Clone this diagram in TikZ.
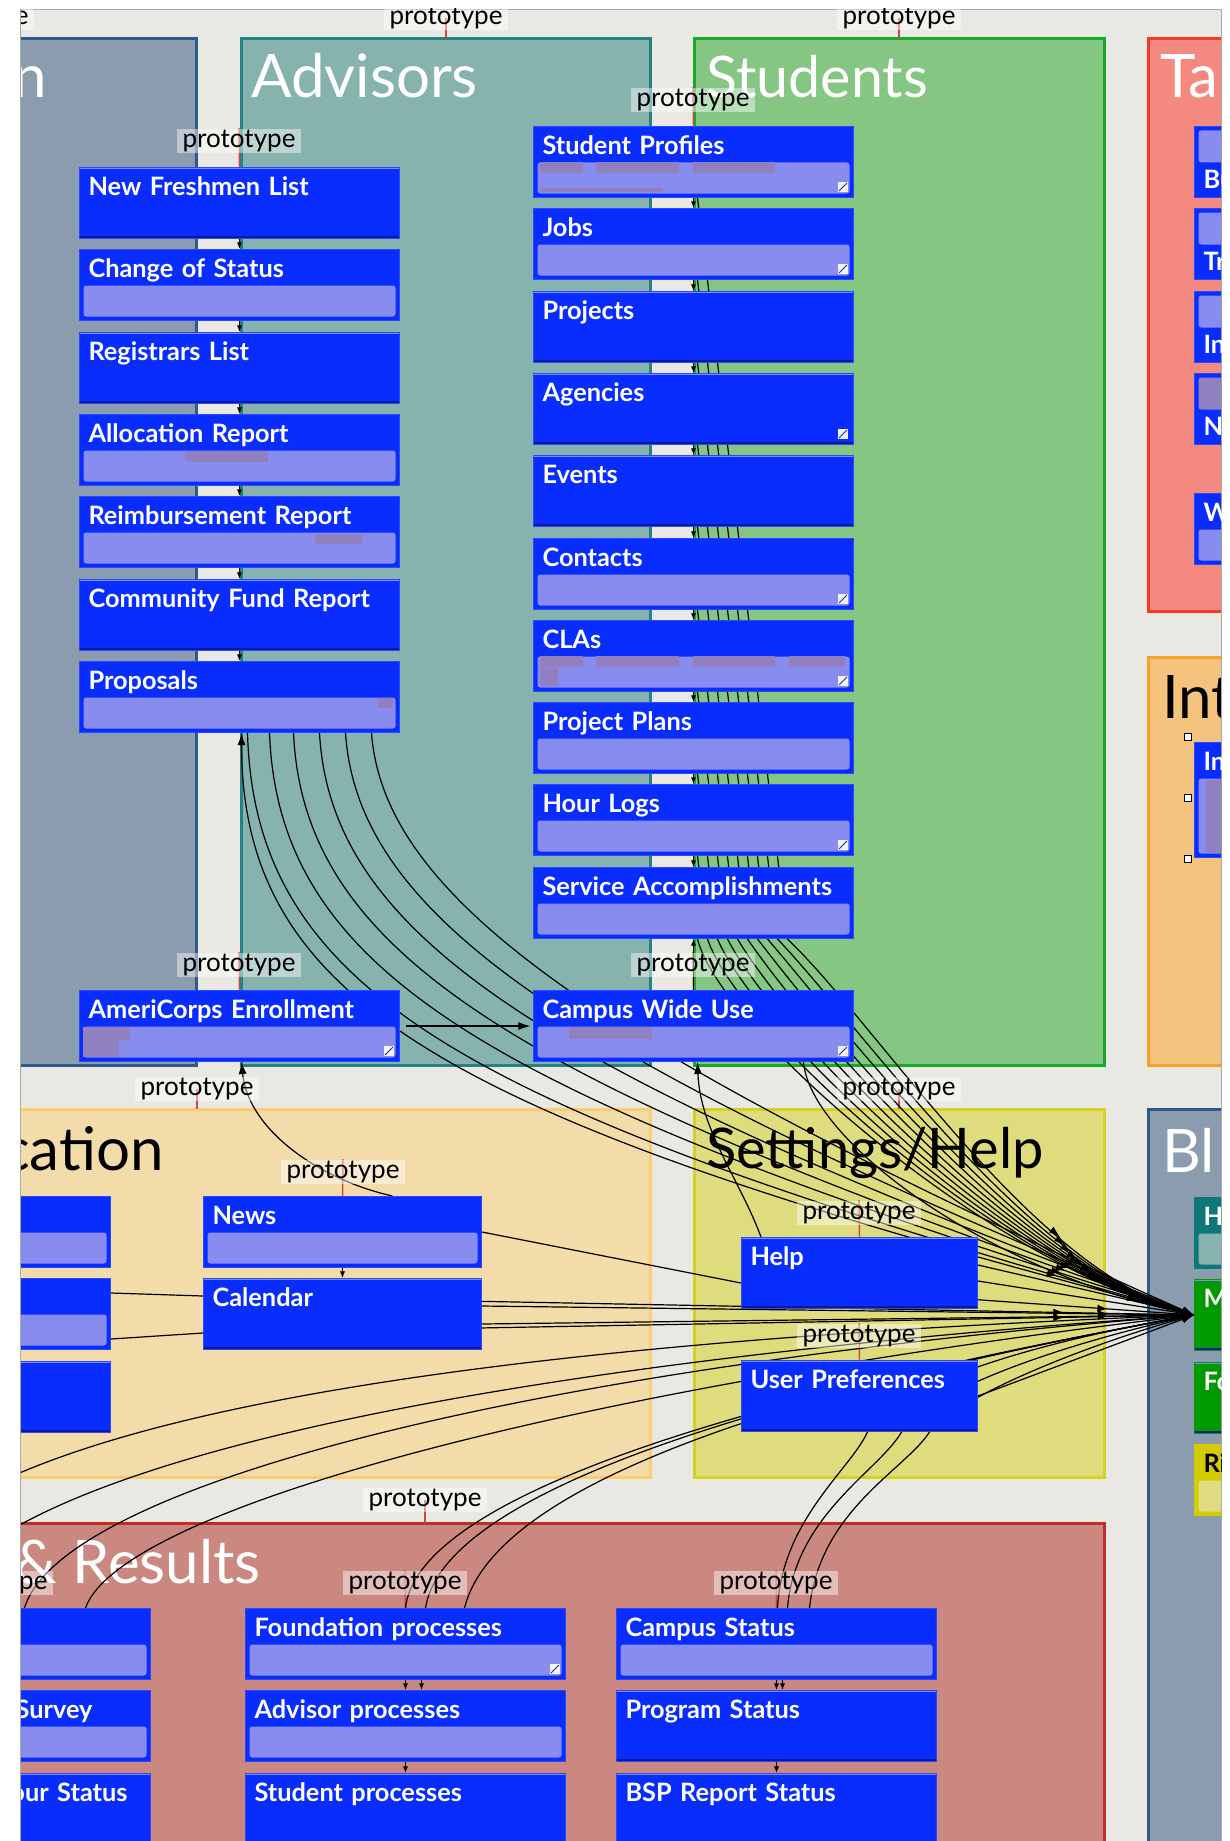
\documentclass[tikz,border=0pt]{standalone}
\usepackage{fontspec}
\usetikzlibrary{arrows.meta,decorations.markings}
\newfontfamily\gill{Lato}
\newcommand\boxfont{\gill\bfseries\fontsize{19pt}{21pt}\selectfont}
\newcommand\ttlfont{\gill\fontsize{45pt}{48pt}\selectfont}
\newcommand\protofont{\gill\fontsize{19.5pt}{21pt}\selectfont}
\newcommand\pgbarcol{barfill}
\newcommand\rszicon[1]{\fill[icnfill] ([shift={(-16,-16)}]#1.south east) rectangle ([shift={(-6,-6)}]#1.south east);
  \draw[boxblue, line width=0.6pt] ([shift={(-15,-7)}]#1.south east) -- ([shift={(-7,-15)}]#1.south east);}
\pgfdeclarelayer{panels}
\pgfdeclarelayer{links}
\pgfsetlayers{panels,links,main}

\definecolor{canvas}{HTML}{E9E8E3}
\definecolor{canvasline}{HTML}{A9A9A9}
\definecolor{admfill}{HTML}{8A9CAE}
\definecolor{admline}{HTML}{2C5B87}
\definecolor{advfill}{HTML}{86B3AE}
\definecolor{advline}{HTML}{268282}
\definecolor{stufill}{HTML}{84C682}
\definecolor{stuline}{HTML}{14AA28}
\definecolor{tskfill}{HTML}{F48A7F}
\definecolor{tskline}{HTML}{F53A28}
\definecolor{intfill}{HTML}{F4C47F}
\definecolor{intline}{HTML}{FAA028}
\definecolor{comfill}{HTML}{F3DCAA}
\definecolor{comline}{HTML}{FACD6E}
\definecolor{setfill}{HTML}{DEDC7D}
\definecolor{setline}{HTML}{D7D01E}
\definecolor{resfill}{HTML}{CB8880}
\definecolor{resline}{HTML}{BE2D26}
\definecolor{boxblue}{HTML}{0A2DFF}
\definecolor{boxrim}{HTML}{2A48FF}
\definecolor{boxdark}{HTML}{0A1A9A}
\definecolor{boxlite}{HTML}{7C8CFF}
\definecolor{barfill}{HTML}{888CEE}
\definecolor{patch}{HTML}{9080C0}
\definecolor{icnfill}{HTML}{F4F2E0}
\definecolor{tealbox}{HTML}{0E7878}
\definecolor{tealbar}{HTML}{86B3AE}
\definecolor{greenbox}{HTML}{009A00}
\definecolor{yellbox}{HTML}{D4CC00}
\definecolor{yellbar}{HTML}{E0DC84}
\definecolor{tickred}{HTML}{C84848}

\tikzset{every picture/.style={line width=0.75pt}}
\tikzset{
  panel/.style 2 args={fill=#1, draw=#2, line width=2.25pt},
  ttl/.style={font=\ttlfont, inner sep=0pt, anchor=base west, text=white},
  pg/.style={anchor=north west, fill=boxblue, draw=boxrim, line width=0.75pt,
    minimum width=240pt, minimum height=53.25pt, inner xsep=6.75pt, inner ysep=3pt,
    text width=226.5pt, text height=18pt, text depth=29.25pt, align=left, text=white, font=\boxfont},
  pgsolid/.style={pg, path picture={
    \fill[boxdark] (path picture bounding box.south west) rectangle ([yshift=2pt]path picture bounding box.south east);
    \fill[boxlite] (path picture bounding box.north west) rectangle ([yshift=-1.2pt]path picture bounding box.north east);}},
  pgbar/.style={pg, path picture={
    \fill[fill=\pgbarcol, rounded corners=2pt] ([shift={(3pt,3pt)}]path picture bounding box.south west) rectangle ([shift={(-3pt,#1)}]path picture bounding box.south east);}},
  pgbar/.default=26.25pt,
  pgtop/.style={pg, text height=43.5pt, text depth=3.75pt, path picture={
    \fill[fill=\pgbarcol, rounded corners=2pt] ([shift={(3pt,-3pt)}]path picture bounding box.north west) rectangle ([shift={(-3pt,-27pt)}]path picture bounding box.north east);}},
  barcol/.code={\def\pgbarcol{#1}},
  proto/.style={fill=white, fill opacity=0.45, text opacity=1, font=\protofont, inner xsep=4.5pt, inner ysep=1pt},
  ptick/.style={draw=tickred, line width=1.1pt},
  chain/.style={line width=0.9pt, -{Latex[length=5pt,width=4pt]}},
  fan/.style={line width=0.9pt, -{Latex[length=9pt,width=6pt]}},
  fanm/.style={fan, postaction={decorate}, decoration={markings, mark=at position 0.88 with {\arrow{Latex[length=8pt,width=5.5pt]}}}},
  back/.style={line width=0.9pt, {Latex[length=9pt,width=6pt]}-},
  handle/.style={draw=black, fill=white, line width=1.2pt, minimum size=5pt, inner sep=0pt},
}

\begin{document}
\begin{tikzpicture}[x=0.75pt,y=0.75pt,yscale=-1,xscale=1]
\useasboundingbox (0,0) rectangle (1229,1841);

\begin{scope}
\clip (21,9) rectangle (1221,1841);
% Advisors
\node[pgsolid] (nfl) at (79,167) {New Freshmen List};
\node[pgbar] (cos) at (79,249) {Change of Status};
\node[pgsolid] (rgl) at (79,332) {Registrars List};
\node[pgbar] (alr) at (79,414) {Allocation Report};
\node[pgbar] (rbr) at (79,496) {Reimbursement Report};
\node[pgsolid] (cfr) at (79,579) {Community Fund Report};
\node[pgbar] (prp) at (79,661) {Proposals};
\node[pgbar] (ace) at (79,990) {AmeriCorps Enrollment};
% Students
\node[pgbar] (spf) at (533,126) {Student Profiles};
\node[pgbar] (job) at (533,208) {Jobs};
\node[pgsolid] (prj) at (533,291) {Projects};
\node[pgsolid] (agn) at (533,373) {Agencies};
\node[pgsolid] (evt) at (533,455) {Events};
\node[pgbar] (cnt) at (533,538) {Contacts};
\node[pgbar] (cla) at (533,620) {CLAs};
\node[pgbar] (ppl) at (533,702) {Project Plans};
\node[pgbar] (hrl) at (533,784) {Hour Logs};
\node[pgbar] (sac) at (533,867) {Service Accomplishments};
\node[pgbar] (cwu) at (533,990) {Campus Wide Use};
% Communication
\node[pgbar, minimum width=210pt, text width=196.5pt] (cm1) at (-170,1196) {};
\node[pgbar, minimum width=210pt, text width=196.5pt] (cm2) at (-170,1278) {};
\node[pgsolid, minimum width=210pt, text width=196.5pt] (cm3) at (-170,1361) {};
\node[pgbar, minimum width=208.5pt, text width=195pt] (nws) at (203,1196) {News};
\node[pgsolid, minimum width=208.5pt, text width=195pt] (cal) at (203,1278) {Calendar};
% Settings/Help
\node[pgsolid, minimum width=177pt, text width=163.5pt] (hlp) at (741,1237) {Help};
\node[pgsolid, minimum width=177pt, text width=163.5pt] (upf) at (741,1360) {User Preferences};
% Results
\node[pgbar] (rs1) at (-170,1608) {};
\node[pgbar, align=right, text width=153pt] (rs2) at (-170,1690) {Survey};
\node[pgsolid, align=right, text width=205.5pt] (rs3) at (-170,1773) {our Status};
\node[pgbar] (fnd) at (245,1608) {Foundation processes};
\node[pgbar] (adp) at (245,1690) {Advisor processes};
\node[pgsolid] (stp) at (245,1773) {Student processes};
\node[pgbar] (cst) at (616,1608) {Campus Status};
\node[pgsolid] (pst) at (616,1690) {Program Status};
\node[pgsolid] (bsp) at (616,1773) {BSP Report Status};
% Tasks
\node[pgtop] (tk1) at (1194,126) {Bu};
\node[pgtop] (tk2) at (1194,208) {Tr};
\node[pgtop] (tk3) at (1194,291) {In};
\node[pgtop, barcol=patch] (tk4) at (1194,373) {N};
\node[pgbar] (tk5) at (1194,493) {W};
% Int
\node[pgbar=59.25pt, minimum height=86.25pt, text depth=62.25pt] (itn) at (1194,742) {In};
\node[handle] (hd1) at (1188,737) {};
\node[handle] (hd2) at (1188,798) {};
\node[handle] (hd3) at (1188,859) {};
% Blocks
\node[pgbar, barcol=tealbar, fill=tealbox, draw=tealbox] (bk1) at (1194,1197) {H};
\node[pgsolid, fill=greenbox, draw=greenbox] (bk2) at (1194,1279) {M};
\node[pgsolid, fill=greenbox, draw=greenbox] (bk3) at (1194,1362) {Fo};
\node[pgbar, barcol=yellbar, fill=yellbox, draw=yellbox, text=black] (bk4) at (1194,1444) {Ri};

% patches
\fill[patch] ([shift={(7,36)}]spf.north west) rectangle ([shift={(50,47)}]spf.north west);
\fill[patch] ([shift={(63,36)}]spf.north west) rectangle ([shift={(146,47)}]spf.north west);
\fill[patch] ([shift={(160,36)}]spf.north west) rectangle ([shift={(242,47)}]spf.north west);
\fill[patch] ([shift={(7,62)}]spf.north west) rectangle ([shift={(130,66)}]spf.north west);
\fill[patch] ([shift={(7,36)}]cla.north west) rectangle ([shift={(50,47)}]cla.north west);
\fill[patch] ([shift={(63,36)}]cla.north west) rectangle ([shift={(146,47)}]cla.north west);
\fill[patch] ([shift={(160,36)}]cla.north west) rectangle ([shift={(242,47)}]cla.north west);
\fill[patch] ([shift={(256,36)}]cla.north west) rectangle ([shift={(312,47)}]cla.north west);
\fill[patch] ([shift={(7,48)}]cla.north west) rectangle ([shift={(25,66)}]cla.north west);
\fill[patch] ([shift={(106,37)}]alr.north west) rectangle ([shift={(189,48)}]alr.north west);
\fill[patch] ([shift={(236,38)}]rbr.north west) rectangle ([shift={(283,48)}]rbr.north west);
\fill[patch] ([shift={(299,37)}]prp.north west) rectangle ([shift={(314,47)}]prp.north west);
\fill[patch] ([shift={(4,37)}]ace.north west) rectangle ([shift={(40,67)}]ace.north west);
\fill[patch] ([shift={(40,37)}]ace.north west) rectangle ([shift={(51,50)}]ace.north west);
\fill[patch] ([shift={(36,37)}]cwu.north west) rectangle ([shift={(119,49)}]cwu.north west);
\fill[patch] ([shift={(12,38)}]itn.north west) rectangle ([shift={(40,111)}]itn.north west);
\rszicon{spf}
\rszicon{job}
\rszicon{agn}
\rszicon{cnt}
\rszicon{cla}
\rszicon{hrl}
\rszicon{ace}
\rszicon{cwu}
\rszicon{fnd}

% prototype labels
\node[proto] (pp0) at (-28,18) {prototype};
\node[proto] (pp1) at (446,18) {prototype};
\node[proto] (pp2) at (899,18) {prototype};
\node[proto] (pp3) at (239,141) {prototype};
\node[proto] (pp4) at (693,100) {prototype};
\node[proto] (pp5) at (239,965) {prototype};
\node[proto] (pp6) at (693,965) {prototype};
\node[proto] (pp7) at (197,1089) {prototype};
\node[proto] (pp8) at (899,1089) {prototype};
\node[proto] (pp9) at (343,1172) {prototype};
\node[proto] (pp10) at (859,1213) {prototype};
\node[proto] (pp11) at (859,1336) {prototype};
\node[proto] (pp12) at (425,1500) {prototype};
\node[proto] (pp13) at (405,1583) {prototype};
\node[proto] (pp14) at (776,1583) {prototype};
\node[proto] (pp15) at (-9,1583) {prototype};
\end{scope}

\begin{pgfonlayer}{links}
\begin{scope}
\clip (21,9) rectangle (1221,1841);
% ticks
\draw[ptick] (pp0.center) -- ++(0,21);
\draw[ptick] (pp1.center) -- ++(0,21);
\draw[ptick] (pp2.center) -- ++(0,21);
\draw[ptick] (pp3.north) -- (nfl.north);
\draw[ptick] (pp4.north) -- (spf.north);
\draw[ptick] (pp5.north) -- (ace.north);
\draw[ptick] (pp6.north) -- (cwu.north);
\draw[ptick] (pp7.center) -- ++(0,20);
\draw[ptick] (pp8.center) -- ++(0,20);
\draw[ptick] (pp9.north) -- (nws.north);
\draw[ptick] (pp10.north) -- (hlp.north);
\draw[ptick] (pp11.north) -- (upf.north);
\draw[ptick] (pp12.center) -- ++(0,23);
\draw[ptick] (pp13.north) -- (fnd.north);
\draw[ptick] (pp14.north) -- (cst.north);
\draw[ptick] (pp15.north) -- (rs1.north);

% column chains
\draw[chain] (nfl.south) -- (cos.north);
\draw[chain] (cos.south) -- (rgl.north);
\draw[chain] (rgl.south) -- (alr.north);
\draw[chain] (alr.south) -- (rbr.north);
\draw[chain] (rbr.south) -- (cfr.north);
\draw[chain] (cfr.south) -- (prp.north);
\draw[chain] (spf.south) -- (job.north);
\draw[chain] (job.south) -- (prj.north);
\draw[chain] (prj.south) -- (agn.north);
\draw[chain] (agn.south) -- (evt.north);
\draw[chain] (evt.south) -- (cnt.north);
\draw[chain] (cnt.south) -- (cla.north);
\draw[chain] (cla.south) -- (ppl.north);
\draw[chain] (ppl.south) -- (hrl.north);
\draw[chain] (hrl.south) -- (sac.north);
\draw[chain] (cwu.north) -- (sac.south);
\draw[chain] (nws.south) -- (cal.north);
\draw[chain] (fnd.south) -- (adp.north);
\draw[chain] ([shift={(16,0)}]fnd.south) -- ([shift={(16,0)}]adp.north);
\draw[chain] (adp.south) -- (stp.north);
\draw[chain] (cst.south) -- (pst.north);
\draw[chain] ([shift={(6,0)}]cst.south) -- ([shift={(6,0)}]pst.north);
\draw[chain] (pst.south) -- (bsp.north);
\draw[fan, shorten >=2pt] ([shift={(6,0)}]ace.east) -- (cwu.west);

% advisors to main menu
\draw[back] ([shift={(2,0)}]prp.south) .. controls (242,1010) and (460,1125) .. (bk2.west);
\draw[fanm] ([shift={(8,0)}]prp.south) .. controls (255,1000) and (480,1115) .. (bk2.west);
\draw[fanm] ([shift={(30,0)}]prp.south) .. controls (279,980) and (504,1102) .. (bk2.west);
\draw[fanm] ([shift={(54,0)}]prp.south) .. controls (304,960) and (528,1089) .. (bk2.west);
\draw[fanm] ([shift={(80,0)}]prp.south) .. controls (331,940) and (552,1076) .. (bk2.west);
\draw[fanm] ([shift={(106,0)}]prp.south) .. controls (358,920) and (576,1063) .. (bk2.west);
\draw[fanm] ([shift={(132,0)}]prp.south) .. controls (384,900) and (600,1050) .. (bk2.west);

% students to main menu
\draw[fanm] ([shift={(4,0)}]spf.south) -- ([shift={(94,0)}]sac.south) .. controls (882,1030) and (1028,1265) .. (bk2.west);
\draw[fanm] ([shift={(4,0)}]job.south) -- ([shift={(84,0)}]sac.south) .. controls (864,1030) and (1024,1265) .. (bk2.west);
\draw[fanm] ([shift={(4,0)}]prj.south) -- ([shift={(74,0)}]sac.south) .. controls (846,1030) and (1020,1265) .. (bk2.west);
\draw[fanm] ([shift={(4,0)}]agn.south) -- ([shift={(64,0)}]sac.south) .. controls (828,1030) and (1016,1265) .. (bk2.west);
\draw[fanm] ([shift={(4,0)}]evt.south) -- ([shift={(54,0)}]sac.south) .. controls (810,1030) and (1012,1265) .. (bk2.west);
\draw[fanm] ([shift={(4,0)}]cnt.south) -- ([shift={(44,0)}]sac.south) .. controls (792,1030) and (1008,1265) .. (bk2.west);
\draw[fanm] ([shift={(4,0)}]cla.south) -- ([shift={(34,0)}]sac.south) .. controls (774,1030) and (1004,1265) .. (bk2.west);
\draw[fanm] ([shift={(4,0)}]ppl.south) -- ([shift={(24,0)}]sac.south) .. controls (756,1030) and (1000,1265) .. (bk2.west);
\draw[fanm] ([shift={(4,0)}]hrl.south) -- ([shift={(14,0)}]sac.south) .. controls (738,1030) and (996,1265) .. (bk2.west);
\draw[fanm] ([shift={(4,0)}]sac.south) .. controls (720,1030) and (992,1265) .. (bk2.west);
\draw[fanm] ([shift={(110,0)}]cwu.south) .. controls (810,1140) and (985,1270) .. (bk2.west);
\draw[back] ([shift={(4,0)}]cwu.south) .. controls (700,1130) and (740,1180) .. ([shift={(20,0)}]hlp.north west);
\draw[back] ([shift={(2,0)}]ace.south) .. controls (248,1130) and (320,1180) .. ([shift={(50,0)}]nws.north);

% communication
\draw[fanm] ([shift={(0,-21)}]cm2.east) -- ([shift={(0,-18)}]cal.west) -- (bk2.west);
\draw[fanm] ([shift={(0,25)}]cm2.east) -- ([shift={(0,19)}]cal.west) -- (bk2.west);
\draw[fanm] ([shift={(0,-8)}]cal.east) -- (bk2.west);
\draw[fanm] ([shift={(0,10)}]cal.east) -- (bk2.west);
\draw[fanm] (nws.east) -- ([shift={(0,10)}]hlp.west) -- (bk2.west);
\draw[fan] ([shift={(0,-8)}]hlp.east) -- (bk2.west);
\draw[fan] ([shift={(0,8)}]hlp.east) -- (bk2.west);
\draw[fan] (upf.east) -- (bk2.west);

% results
\draw[fan] ([shift={(-120,0)}]rs1.north) .. controls (-100,1450) and (300,1350) .. (bk2.west);
\draw[fan] ([shift={(-60,0)}]rs1.north) .. controls (-20,1480) and (400,1370) .. (bk2.west);
\draw[fan] ([shift={(34,0)}]rs1.north) .. controls (60,1490) and (500,1370) .. (bk2.west);
\draw[fan] ([shift={(95,0)}]rs1.north) .. controls (120,1510) and (560,1390) .. (bk2.west);
\draw[fan] (fnd.north) .. controls (415,1520) and (620,1420) .. (bk2.west);
\draw[fan] ([shift={(20,0)}]fnd.north) .. controls (440,1515) and (650,1415) .. (bk2.west);
\draw[fan] ([shift={(59,0)}]fnd.north) .. controls (490,1505) and (700,1405) .. (bk2.west);
\draw[fan] ([shift={(1,0)}]cst.north) .. controls (782,1520) and (850,1470) .. ([shift={(8,0)}]upf.south) .. controls (900,1380) and (1050,1340) .. (bk2.west);
\draw[fan] ([shift={(11,0)}]cst.north) .. controls (795,1515) and (880,1470) .. ([shift={(42,0)}]upf.south) .. controls (930,1390) and (1060,1345) .. (bk2.west);
\draw[fan] ([shift={(33,0)}]cst.north) .. controls (820,1510) and (905,1470) .. ([shift={(70,0)}]upf.south) .. controls (955,1400) and (1070,1350) .. (bk2.west);
\end{scope}
\end{pgfonlayer}

\begin{pgfonlayer}{panels}
\fill[white] (0,0) rectangle (1229,1841);
\begin{scope}
\clip (21,9) rectangle (1221,1841);
\fill[canvas] (21,9) rectangle (1221,1841);
\draw[panel={admfill}{admline}] (-20,39) rectangle (196,1065);
\draw[panel={advfill}{advline}] (241,39) rectangle (650,1065);
\draw[panel={stufill}{stuline}] (694,39) rectangle (1104,1065);
\draw[panel={tskfill}{tskline}] (1148,39) rectangle (1260,611);
\draw[panel={intfill}{intline}] (1148,657) rectangle (1260,1065);
\draw[panel={admfill}{admline}] (1148,1109) rectangle (1260,1900);
\draw[panel={comfill}{comline}] (-20,1109) rectangle (650,1477);
\draw[panel={setfill}{setline}] (694,1109) rectangle (1104,1477);
\draw[panel={resfill}{resline}] (-20,1523) rectangle (1104,1900);
\node[ttl, anchor=base east] (tadm) at (47,98) {n};
\node[ttl] (tadv) at (251,98) {Advisors};
\node[ttl, font=\gill\fontsize{43pt}{46pt}\selectfont] (tstu) at (706,98) {Students};
\node[ttl] (ttsk) at (1160,98) {Ta};
\node[ttl, text=black] (tint) at (1162,718) {Int};
\node[ttl] (tblk) at (1162,1172) {Bl};
\node[ttl, text=black, anchor=base east] (tcom) at (164,1170) {cation};
\node[ttl, text=black, font=\gill\fontsize{42pt}{45pt}\selectfont] (tset) at (706,1168) {Settings/Help};
\node[ttl, anchor=base east] (tres) at (261,1583) {\& Results};
\end{scope}
\draw[canvasline] (20.5,1841) -- (20.5,9.5) -- (1221.5,9.5) -- (1221.5,1841);
\end{pgfonlayer}
\end{tikzpicture}
\end{document}
